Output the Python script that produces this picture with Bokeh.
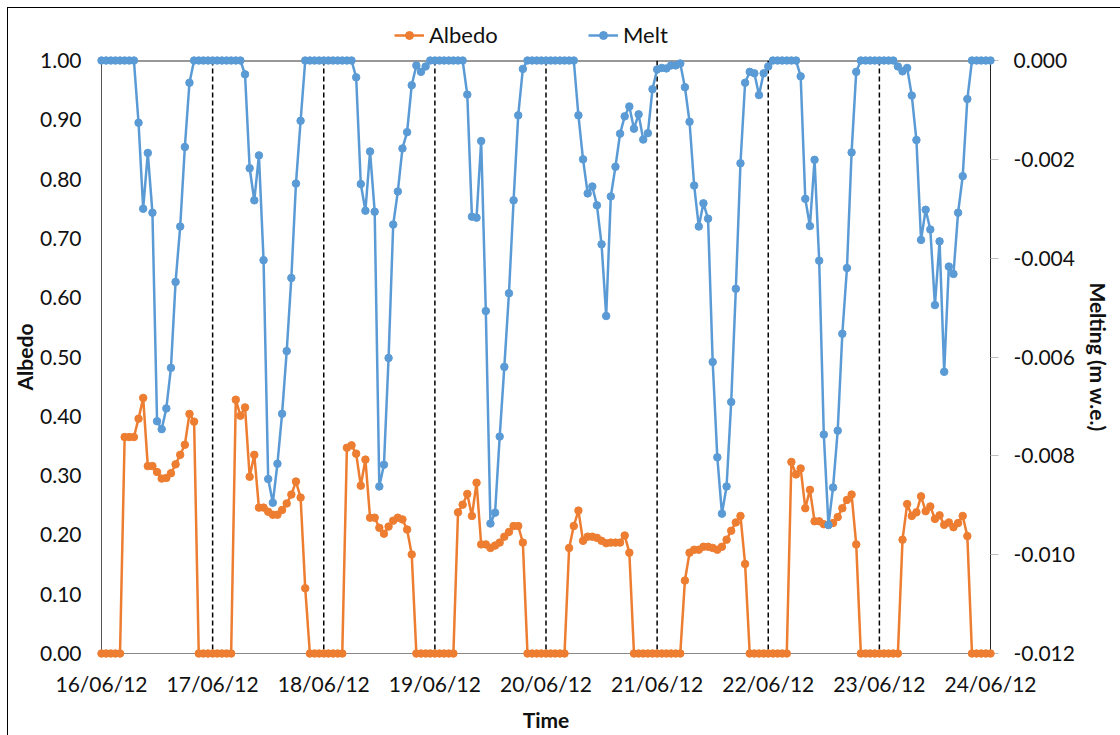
from bokeh.plotting import figure
from bokeh.layouts import column
from bokeh.models import (Range1d, LinearAxis, FixedTicker, Legend, LegendItem, Span,
                          ColumnDataSource, NumeralTickFormatter)
from bokeh.embed import file_html
from bokeh.resources import INLINE

# ---------------- data ----------------
dates = ["16/06/12", "17/06/12", "18/06/12", "19/06/12", "20/06/12",
         "21/06/12", "22/06/12", "23/06/12", "24/06/12"]
hours_per_day = 24

# hourly albedo, 16/06/12 00:00 .. 24/06/12 00:00
albedo = [
    0, 0, 0, 0, 0, 0.365, 0.365, 0.365, 0.396, 0.431, 0.316, 0.316, 0.306, 0.295, 0.296, 0.304, 0.319, 0.335, 0.352, 0.404, 0.391, 0, 0, 0,
    0, 0, 0, 0, 0, 0.428, 0.401, 0.415, 0.298, 0.335, 0.246, 0.246, 0.239, 0.234, 0.234, 0.242, 0.253, 0.268, 0.290, 0.263, 0.110, 0, 0, 0,
    0, 0, 0, 0, 0, 0.347, 0.351, 0.337, 0.283, 0.327, 0.229, 0.229, 0.212, 0.202, 0.214, 0.224, 0.229, 0.226, 0.209, 0.167, 0, 0, 0, 0,
    0, 0, 0, 0, 0, 0.238, 0.251, 0.269, 0.232, 0.288, 0.184, 0.184, 0.178, 0.182, 0.187, 0.197, 0.205, 0.215, 0.215, 0.187, 0, 0, 0, 0,
    0, 0, 0, 0, 0, 0.178, 0.215, 0.241, 0.190, 0.197, 0.197, 0.195, 0.190, 0.186, 0.187, 0.187, 0.187, 0.199, 0.170, 0, 0, 0, 0, 0,
    0, 0, 0, 0, 0, 0, 0.123, 0.170, 0.175, 0.175, 0.180, 0.180, 0.178, 0.175, 0.180, 0.192, 0.207, 0.221, 0.232, 0.151, 0, 0, 0, 0,
    0, 0, 0, 0, 0, 0.323, 0.302, 0.312, 0.245, 0.276, 0.223, 0.223, 0.218, 0.217, 0.220, 0.230, 0.245, 0.259, 0.268, 0.184, 0, 0, 0, 0,
    0, 0, 0, 0, 0, 0.192, 0.252, 0.232, 0.238, 0.265, 0.240, 0.248, 0.227, 0.233, 0.217, 0.221, 0.213, 0.220, 0.232, 0.198, 0, 0, 0, 0,
    0,
]

# hourly melting (m w.e.)
melt = [
    0, 0, 0, 0, 0, 0, 0, 0, -0.00126, -0.00300, -0.00187, -0.00308, -0.00730, -0.00746, -0.00704, -0.00622, -0.00448, -0.00336, -0.00175, -0.00045, 0, 0, 0, 0,
    0, 0, 0, 0, 0, 0, 0, -0.00028, -0.00218, -0.00283, -0.00192, -0.00404, -0.00847, -0.00895, -0.00816, -0.00715, -0.00588, -0.00440, -0.00249, -0.00122, 0, 0, 0, 0,
    0, 0, 0, 0, 0, 0, 0, -0.00034, -0.00250, -0.00304, -0.00184, -0.00306, -0.00862, -0.00818, -0.00602, -0.00332, -0.00265, -0.00178, -0.00145, -0.00050, -0.00010, -0.00023, -0.00012, 0,
    0, 0, 0, 0, 0, 0, 0, -0.00069, -0.00316, -0.00318, -0.00163, -0.00507, -0.00937, -0.00915, -0.00761, -0.00620, -0.00471, -0.00283, -0.00111, -0.00017, 0, 0, 0, 0,
    0, 0, 0, 0, 0, 0, 0, -0.00111, -0.00200, -0.00269, -0.00255, -0.00293, -0.00372, -0.00517, -0.00275, -0.00215, -0.00148, -0.00113, -0.00093, -0.00138, -0.00109, -0.00160, -0.00147, -0.00058,
    -0.00018, -0.00015, -0.00016, -0.00010, -0.00010, -0.00006, -0.00054, -0.00124, -0.00253, -0.00336, -0.00289, -0.00320, -0.00610, -0.00803, -0.00917, -0.00862, -0.00691, -0.00462, -0.00208, -0.00045, -0.00023, -0.00026, -0.00070, -0.00026,
    -0.00012, 0, 0, 0, 0, 0, 0, -0.00032, -0.00280, -0.00335, -0.00201, -0.00405, -0.00757, -0.00940, -0.00864, -0.00749, -0.00553, -0.00420, -0.00186, -0.00023, 0, 0, 0, 0,
    0, 0, 0, 0, -0.00012, -0.00022, -0.00015, -0.00071, -0.00161, -0.00363, -0.00302, -0.00342, -0.00495, -0.00366, -0.00630, -0.00417, -0.00432, -0.00308, -0.00234, -0.00078, 0, 0, 0, 0,
    0,
]

series_names = ["Albedo", "Melt"]
albedo_ticks = [0.0, 0.1, 0.2, 0.3, 0.4, 0.5, 0.6, 0.7, 0.8, 0.9, 1.0]
melt_ticks = [-0.012, -0.010, -0.008, -0.006, -0.004, -0.002, 0.0]

# ---------------- figure ----------------
FONT = "Lato"
ORANGE = "#ED7D31"
BLUE = "#5B9BD5"
W = 1112
H_LEG, H_MAIN = 40, 687
hours = list(range(len(albedo)))
day_ticks = [i * hours_per_day for i in range(len(dates))]

src = ColumnDataSource(dict(h=hours, albedo=albedo, melt=melt))

p = figure(width=W, height=H_MAIN, output_backend="svg", toolbar_location=None,
           x_range=Range1d(day_ticks[0], day_ticks[-1]),
           y_range=Range1d(albedo_ticks[0], albedo_ticks[-1]),
           min_border_left=93, min_border_right=130, min_border_top=12, min_border_bottom=82,
           background_fill_color="white", border_fill_color="white")
p.extra_y_ranges = {"melt": Range1d(melt_ticks[0], melt_ticks[-1])}
p.outline_line_color = None
p.xgrid.visible = False
p.ygrid.visible = False

# left axis (albedo)
ya = p.yaxis[0]
ya.ticker = FixedTicker(ticks=albedo_ticks)
ya.formatter = NumeralTickFormatter(format="0.00")
ya.axis_label = "Albedo"
ya.major_tick_out = 0
ya.major_tick_in = 0
ya.minor_tick_out = 0
ya.minor_tick_in = 0
ya.major_label_standoff = 20
ya.axis_label_standoff = 0
ya.axis_line_color = "#555555"

# bottom axis (time)
xa = p.xaxis[0]
xa.ticker = FixedTicker(ticks=day_ticks)
xa.major_label_overrides = {t: d for t, d in zip(day_ticks, dates)}
xa.axis_label = "Time"
xa.major_tick_out = 0
xa.major_tick_in = 0
xa.minor_tick_out = 0
xa.minor_tick_in = 0
xa.major_label_standoff = 17
xa.axis_label_standoff = 8
xa.axis_line_color = "#898989"

# right axis (melt)
ra = LinearAxis(y_range_name="melt", ticker=FixedTicker(ticks=melt_ticks),
                formatter=NumeralTickFormatter(format="0.000"),
                axis_label="Melting (m w.e.)")
ra.major_tick_out = 8
ra.major_tick_in = 0
ra.minor_tick_out = 0
ra.minor_tick_in = 0
ra.major_tick_line_color = "#bfbfbf"
ra.major_label_standoff = 15
ra.axis_label_standoff = 8
ra.axis_line_color = "#262626"
p.add_layout(ra, "right")

for ax in (ya, xa, ra):
    ax.major_label_text_font = FONT
    ax.major_label_text_font_size = "21px"
    ax.major_label_text_line_height = 1.0
    ax.major_label_text_color = "#111111"
    ax.axis_label_text_font = FONT
    ax.axis_label_text_font_size = "21px"
    ax.axis_label_text_font_style = "bold"
    ax.axis_label_text_color = "#111111"
    ax.axis_line_width = 1

# top line of the plot area (melt = 0)
p.add_layout(Span(location=melt_ticks[-1], y_range_name="melt", dimension="width",
                  line_color="#333333", line_width=2))

# dashed day separators
for t in day_ticks[1:-1]:
    p.add_layout(Span(location=t, dimension="height", line_color="black",
                      line_width=1.5, line_dash="5 3"))

p.line("h", "albedo", source=src, line_color=ORANGE, line_width=2.5, level="overlay")
p.scatter("h", "albedo", source=src, size=7.5, fill_color=ORANGE, line_color=ORANGE, level="overlay")
p.line("h", "melt", source=src, y_range_name="melt", line_color=BLUE, line_width=2.5, level="overlay")
p.scatter("h", "melt", source=src, y_range_name="melt", size=7.5, fill_color=BLUE, line_color=BLUE, level="overlay")

# ---------------- legend strip above the plot ----------------
lg = figure(width=W, height=H_LEG, output_backend="svg", toolbar_location=None,
            x_range=Range1d(0, 1), y_range=Range1d(0, 1),
            min_border_left=0, min_border_right=0, min_border_top=0, min_border_bottom=0,
            x_axis_location=None, y_axis_location=None,
            background_fill_color="white", border_fill_color="white")
lg.outline_line_color = None
lg.xgrid.visible = False
lg.ygrid.visible = False
# legend-only renderers: one undefined (NaN) point each, so nothing is drawn in the strip
nan = float("nan")
empty = ColumnDataSource(dict(x=[nan], y=[nan]))
items = []
for name, col in zip(series_names, [ORANGE, BLUE]):
    r1 = lg.line("x", "y", source=empty, line_color=col, line_width=2.5)
    r2 = lg.scatter("x", "y", source=empty, size=7.5, fill_color=col, line_color=col)
    items.append(LegendItem(label=name, renderers=[r1, r2]))

legend = Legend(items=items, orientation="horizontal", location=(293, 0),
                border_line_color=None, background_fill_alpha=0,
                label_text_font=FONT, label_text_font_size="22px", label_text_color="#111111",
                glyph_width=30, label_standoff=5, label_width=69, spacing=90,
                padding=0, margin=0)
lg.add_layout(legend)

layout = column(lg, p, spacing=0)
layout.styles = {"margin-left": "7px", "margin-top": "7px",
                 "border-left": "1px solid #000", "border-top": "1px solid #000"}

open("out.html", "w").write(file_html(layout, INLINE))
